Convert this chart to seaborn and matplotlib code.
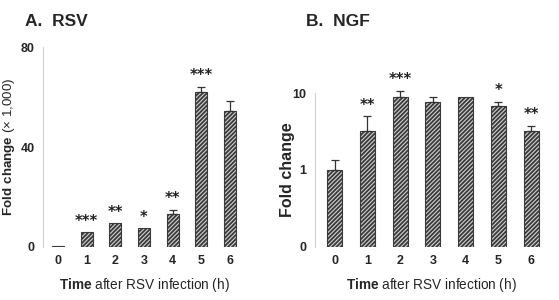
import matplotlib
matplotlib.use("Agg")
import matplotlib.pyplot as plt
import numpy as np
import seaborn as sns

# DATA
hours = ["0", "1", "2", "3", "4", "5", "6"]

rsv_fold = [0.3, 5.8, 9.5, 7.5, 13.2, 62.2, 54.6]
rsv_err = [0, 0, 0, 0, 1.7, 1.8, 3.7]
rsv_stars = ["", "***", "**", "*", "**", "***", ""]

ngf_fold = [1.0, 3.25, 9.0, 7.75, 9.0, 6.7, 3.25]
ngf_err = [0.33, 1.75, 1.6, 1.25, 0, 1.05, 0.5]
ngf_stars = ["", "**", "***", "", "", "*", "**"]

# STYLE
sns.set_style("white")
plt.rcParams["font.family"] = ["Liberation Sans", "DejaVu Sans"]
plt.rcParams["mathtext.fontset"] = "custom"
plt.rcParams["mathtext.rm"] = "Liberation Sans"
plt.rcParams["mathtext.bf"] = "Liberation Sans:bold"
plt.rcParams["hatch.linewidth"] = 1.3

fig = plt.figure(figsize=(5.59, 3.0), dpi=100)
ax_a = fig.add_axes([0.077, 0.177, 0.361, 0.666])
ax_b = fig.add_axes([0.5635, 0.177, 0.416, 0.513])


def draw_panel(ax, fold, err, stars, width):
    sns.barplot(x=hours, y=fold, ax=ax, color="#d0d0d0", width=width,
                edgecolor="#333333", linewidth=0.8)
    for patch in ax.patches:
        patch.set_hatch("////////")
        patch.set_edgecolor("#3a3a3a")
    pos = [i for i, e in enumerate(err) if e > 0]
    ax.errorbar(pos, [fold[i] for i in pos],
                yerr=[[0] * len(pos), [err[i] for i in pos]],
                fmt="none", ecolor="#333333", elinewidth=0.9, capsize=3,
                capthick=0.9, clip_on=False)
    for i, s in enumerate(stars):
        if s:
            ax.annotate(s, (i, fold[i] + err[i]), xytext=(0, 8),
                        textcoords="offset points", ha="center", va="center",
                        fontsize=10.5, fontweight="bold", color="#222",
                        annotation_clip=False,
                        family=["DejaVu Sans"])
    sns.despine(ax=ax, bottom=True)
    ax.spines["left"].set_color("#d0d0d0")
    ax.spines["left"].set_linewidth(0.8)
    ax.tick_params(length=0, labelsize=9, pad=6)
    for lab in ax.get_xticklabels() + ax.get_yticklabels():
        lab.set_fontweight("bold")
    ax.set_xlabel(r"$\bf{Time}$ after RSV infection (h)", fontsize=9.8,
                  labelpad=6)


# PANEL A - RSV
draw_panel(ax_a, rsv_fold, rsv_err, rsv_stars, 0.42)
ax_a.set_xlim(-0.52, 6.52)
ax_a.set_ylim(0, 80)
ax_a.set_yticks([0, 40, 80])
ax_a.set_yticklabels(["0", "40", "80"])
ax_a.set_ylabel(r"$\bf{Fold\ change}$ (× 1,000)", fontsize=9.6)
ax_a.yaxis.set_label_coords(-0.128, 0.5)
for lab in ax_a.get_yticklabels():
    lab.set_fontweight("bold")

# PANEL B - NGF
draw_panel(ax_b, ngf_fold, ngf_err, ngf_stars, 0.46)
ax_b.set_yscale("log")
ax_b.set_xlim(-0.6, 6.5)
ax_b.set_ylim(0.1, 10)
ax_b.set_yticks([0.1, 1, 10])
ax_b.set_yticklabels(["0", "1", "10"])
ax_b.minorticks_off()
ax_b.set_ylabel("Fold change", fontsize=11.5, fontweight="bold")
ax_b.yaxis.set_label_coords(-0.086, 0.5)
for lab in ax_b.get_yticklabels():
    lab.set_fontweight("bold")

fig.text(0.045, 0.915, "A.  RSV", fontsize=12.5, fontweight="bold")
fig.text(0.547, 0.915, "B.  NGF", fontsize=12.5, fontweight="bold")

fig.savefig("out.png", dpi=100)
